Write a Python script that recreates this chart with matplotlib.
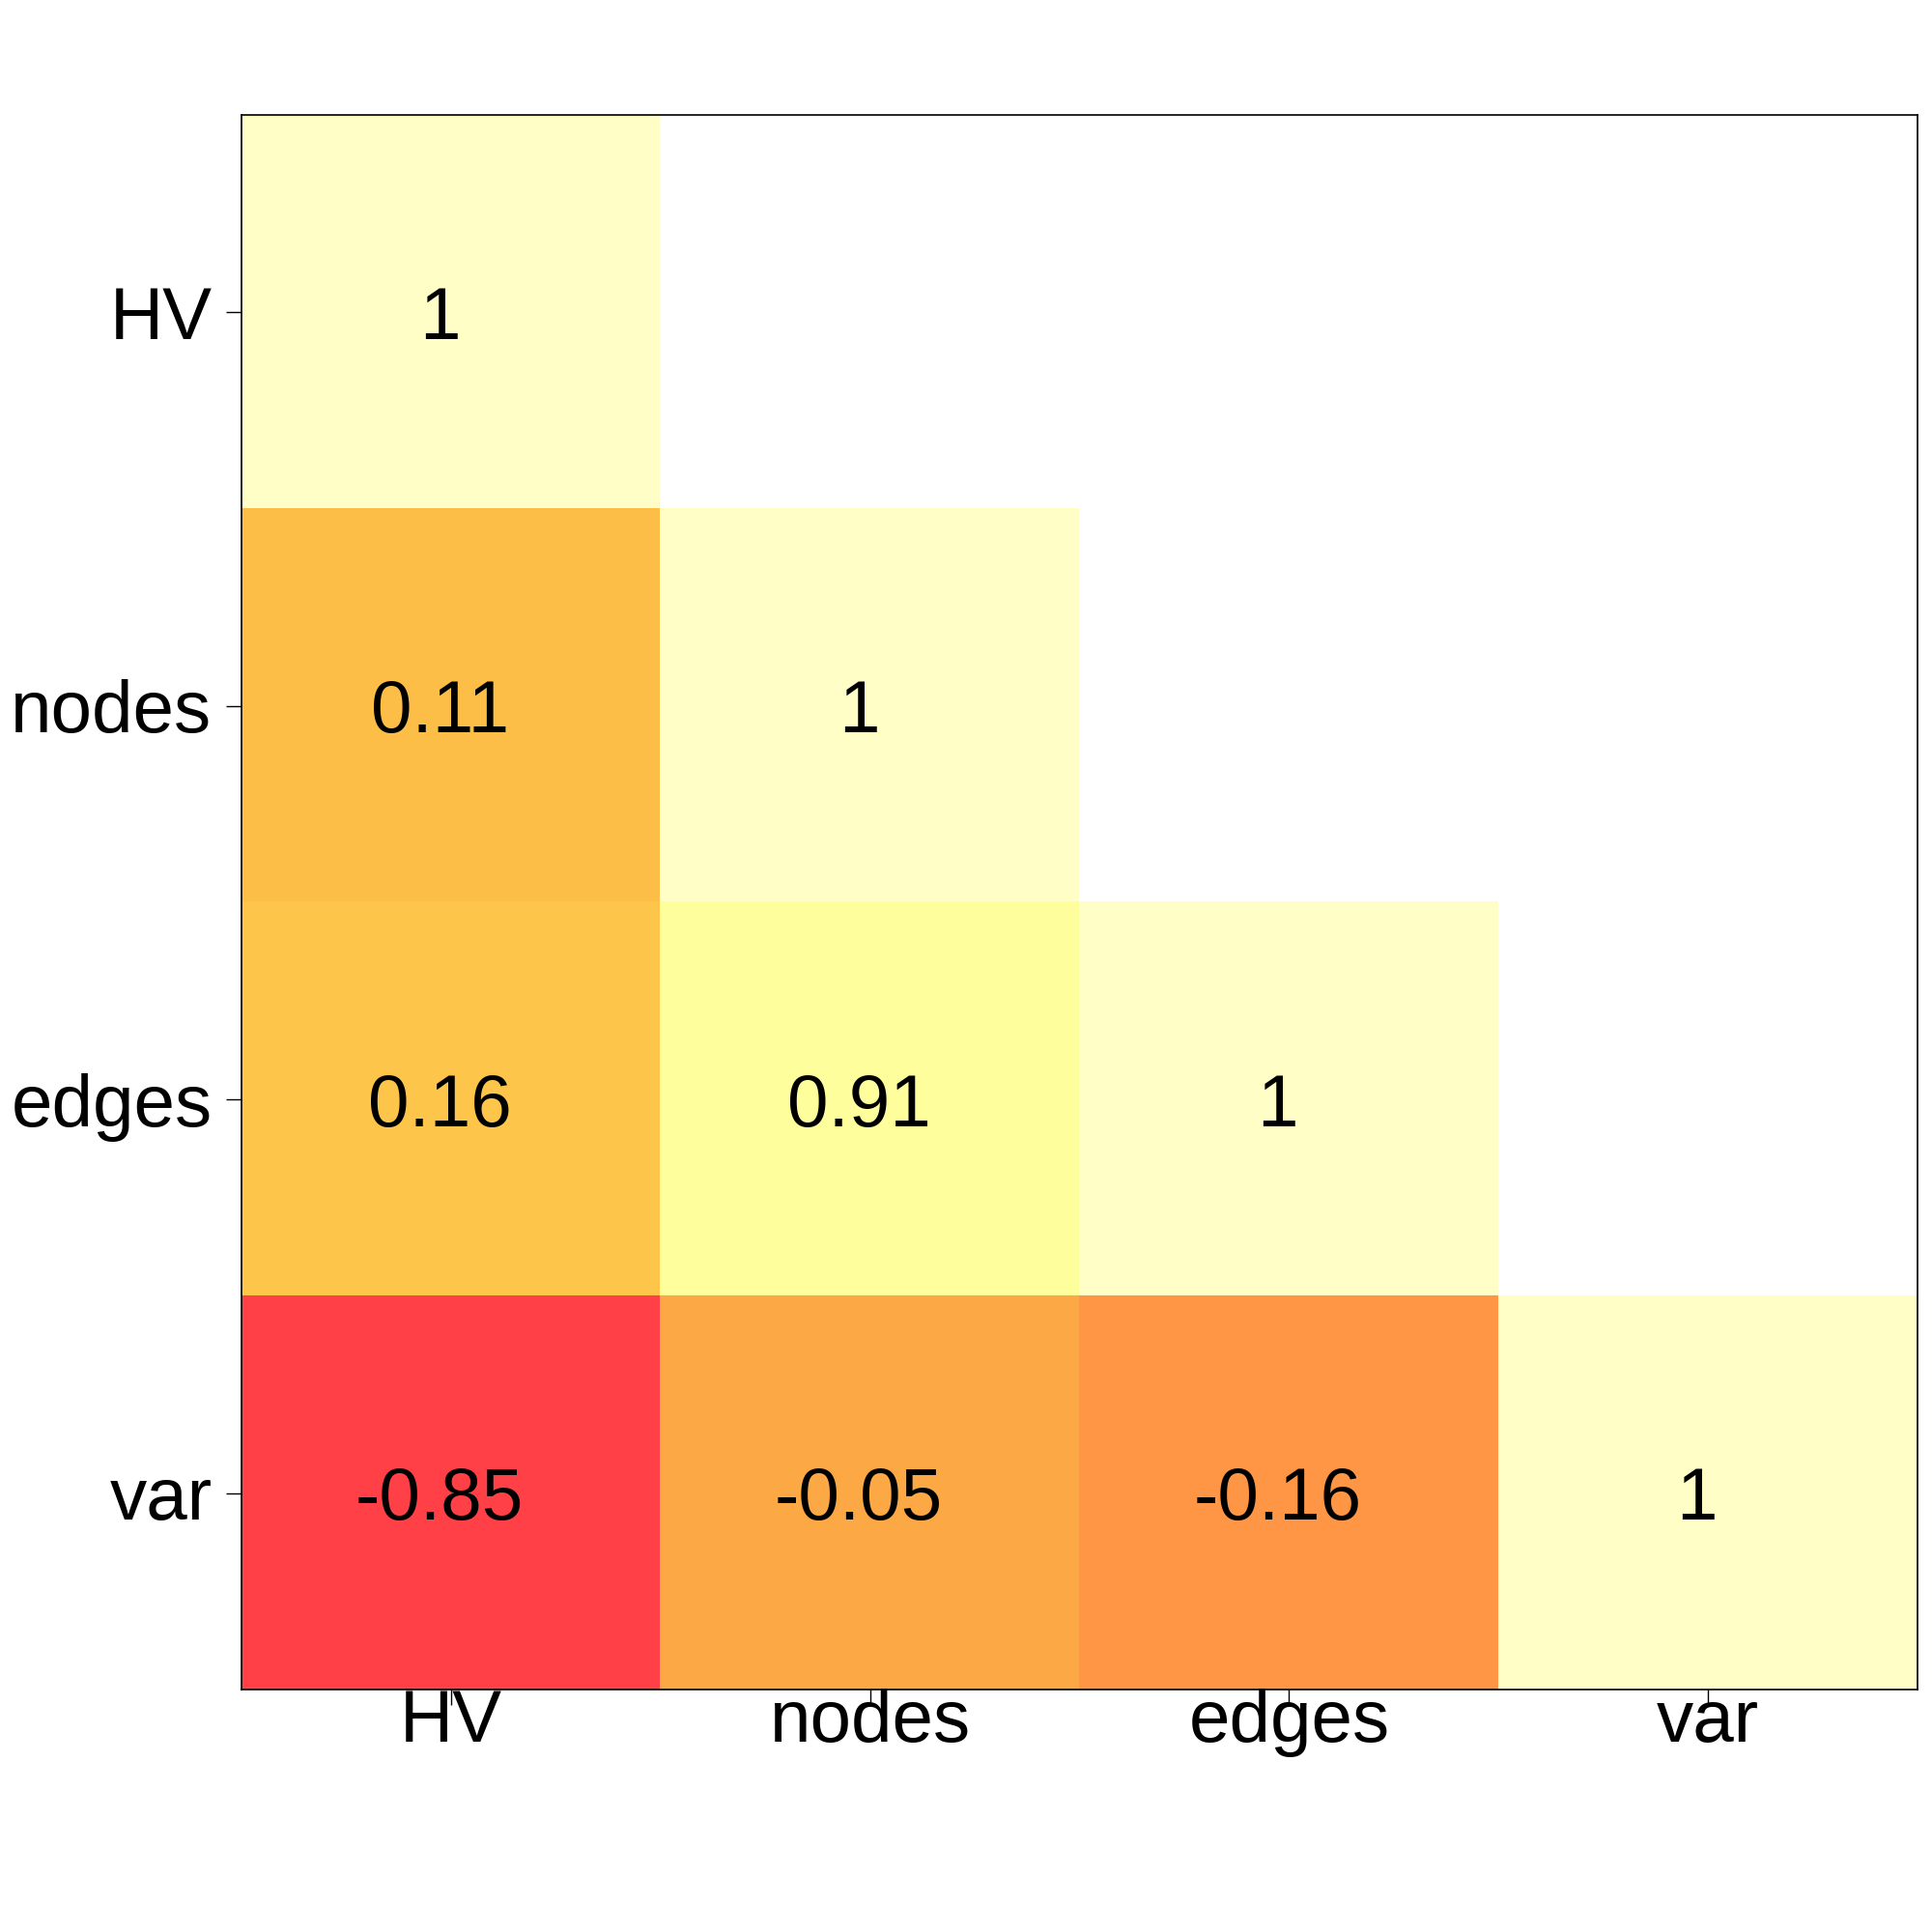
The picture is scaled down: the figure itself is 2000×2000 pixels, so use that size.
import numpy as np
import matplotlib.pyplot as plt
from matplotlib.colors import LinearSegmentedColormap

# 變數名稱與相關係數（下三角）
labels = ["HV", "nodes", "edges", "var"]
corr = np.array([
    [1.00, np.nan, np.nan, np.nan],
    [0.11, 1.00, np.nan, np.nan],
    [0.16, 0.91, 1.00, np.nan],
    [-0.85, -0.05, -0.16, 1.00],
])
cell_text = [
    ["1", "", "", ""],
    ["0.11", "1", "", ""],
    ["0.16", "0.91", "1", ""],
    ["-0.85", "-0.05", "-0.16", "1"],
]

# 顏色節點（值 -> 顏色）
color_vals = [-0.85, -0.16, -0.05, 0.11, 0.16, 0.91, 1.00]
color_hex = ["#FF4047", "#FF9745", "#FBA845", "#FDBF47", "#FEC54B", "#FFFE9C", "#FFFEC6"]
vmin, vmax = color_vals[0], color_vals[-1]
nodes = [(v - vmin) / (vmax - vmin) for v in color_vals]
cmap = LinearSegmentedColormap.from_list("heat_like", list(zip(nodes, color_hex)), N=512)
cmap.set_bad("white")

plt.rcParams['font.family'] = ['Liberation Sans', 'DejaVu Sans']

fig = plt.figure(figsize=(20, 20), dpi=100, facecolor="white")
ax = fig.add_axes([0.125, 0.1253, 0.8675, 0.815])

ax.imshow(np.ma.masked_invalid(corr), cmap=cmap, vmin=vmin, vmax=vmax,
          aspect="auto", interpolation="nearest")

# 數字稍微偏左，跟原圖一樣
for i in range(len(labels)):
    for j in range(len(labels)):
        if cell_text[i][j]:
            ax.text(j - 0.027, i + 0.02, cell_text[i][j], ha="center", va="center",
                    fontsize=55, color="black")

ax.set_xticks(range(len(labels)))
ax.set_yticks(range(len(labels)))
ax.set_xticklabels(labels, fontsize=55)
ax.set_yticklabels(labels, fontsize=55)
ax.tick_params(axis="y", direction="out", length=11.5, width=1, pad=10.5)
ax.tick_params(axis="x", direction="out", length=11.5, width=1, pad=-12.5)

for s in ax.spines.values():
    s.set_linewidth(1.2)

fig.savefig("out.png", dpi=100, facecolor="white")
